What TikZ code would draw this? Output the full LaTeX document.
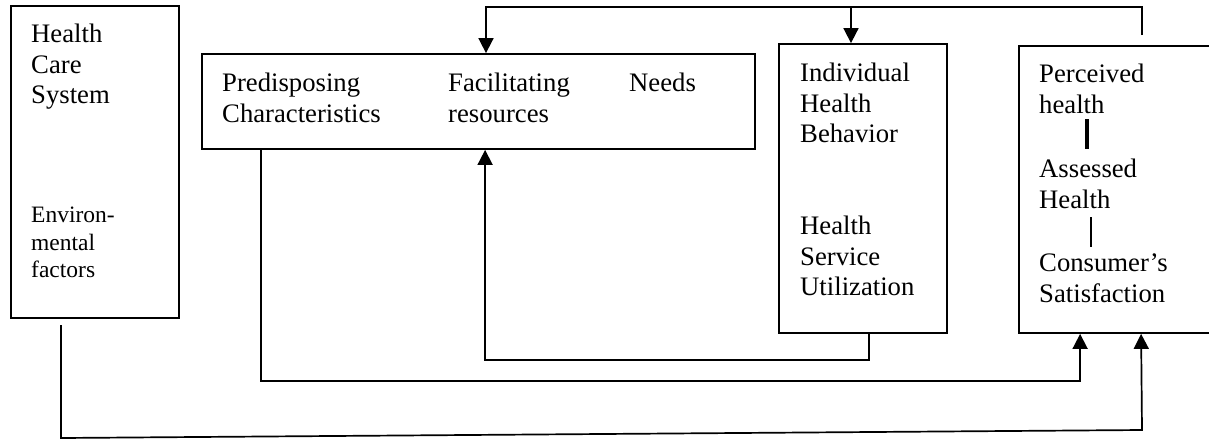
\documentclass[tikz,border=0pt]{standalone}
\usepackage{fontspec}
\setmainfont{Liberation Serif}
\usetikzlibrary{arrows.meta}
\begin{document}
\begin{tikzpicture}
  [x=1pt,y=-1pt,
   box/.style={draw,line width=1.8pt,rectangle,inner sep=0pt},
   txt/.style={anchor=north west,inner sep=0pt,align=left,
     font=\fontsize{26.7}{30.5}\selectfont},
   small/.style={txt,font=\fontsize{23.5}{27.5}\selectfont},
   arr/.style={line width=1.7pt,-{Triangle[width=15pt,length=15pt]}},
   link/.style={line width=1.7pt}]
  \useasboundingbox (0,0) rectangle (1209,440);

  % boxes
  \node[box,minimum width=168pt,minimum height=312pt] (hcs) at (95,162) {};
  \node[box,minimum width=553pt,minimum height=95pt] (det) at (478.5,101.5) {};
  \node[box,minimum width=168pt,minimum height=289pt] (beh) at (863,188.5) {};
  \node[box,minimum width=194pt,minimum height=287pt] (out) at (1116,189.5) {};

  % texts
  \node[txt] (sys) at (31,24) {Health\\Care\\System};
  \node[small] (env) at (31,207) {Environ-\\mental\\factors};
  \node[txt] (pre) at (222,73) {Predisposing\\Characteristics};
  \node[txt] (fac) at (448,73) {Facilitating\\resources};
  \node[txt] (need) at (629,73) {Needs};
  \node[txt] (ind) at (800,63) {Individual\\Health\\Behavior};
  \node[txt] (use) at (800,216) {Health\\Service\\Utilization};
  \node[txt] (perc) at (1039,64) {Perceived\\health};
  \node[txt] (asse) at (1039,159) {Assessed\\Health};
  \node[txt] (cons) at (1039,254) {Consumer's\\Satisfaction};

  % bars between outcomes
  \coordinate (b1) at (1087,119);
  \coordinate (b2) at (1087,149);
  \coordinate (b3) at (1091,217);
  \coordinate (b4) at (1091,247);
  \draw[line width=3.6pt] (b1) -- (b2);
  \draw[line width=1.5pt] (b3) -- (b4);

  % feedback on top
  \coordinate (fb) at (1142,35);
  \coordinate (topline) at (0,7);
  \draw[arr] (fb) -- (fb |- topline) -| ([xshift=7.5pt]det.north);
  \draw[arr] ([xshift=-12pt]beh.north |- topline) -- ([xshift=-12pt]beh.north);

  % lower connectors
  \coordinate (low1) at (0,381);
  \coordinate (low2) at (0,360);
  \draw[arr] ([xshift=60pt]det.south west) -- ([xshift=60pt]det.south west |- low1)
    -| ([xshift=62pt]out.south west);
  \draw[arr] ([xshift=91pt]beh.south west) -- ([xshift=91pt]beh.south west |- low2)
    -| ([xshift=284pt]det.south west);
  \coordinate (envout) at (61,325);
  \coordinate (lowL) at (61,438);
  \coordinate (lowR) at (1142,430);
  \draw[arr] (envout) -- (lowL) -- (lowR) -- ([xshift=123pt]out.south west);
\end{tikzpicture}
\end{document}
